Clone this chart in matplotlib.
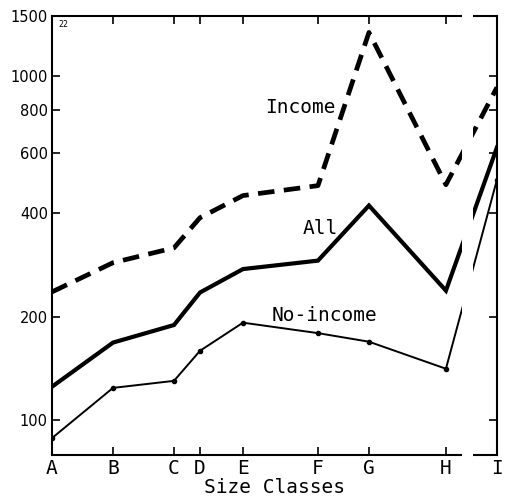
#!/usr/bin/env python3
"""Income / All / No-income by size class, log scale, with a break before class I."""

import matplotlib
matplotlib.use("Agg")
import matplotlib.pyplot as plt
from matplotlib.patches import Rectangle
from matplotlib.ticker import FixedLocator, NullLocator

classes = ["A", "B", "C", "D", "E", "F", "G", "H", "I"]
# relative position of each size class along the axis
class_pos = [0, 61, 122, 148, 191, 266, 317, 394, 445]

income = [236, 287, 317, 388, 450, 481, 1343, 484, 929]
all_units = [125, 168, 189, 235, 275, 291, 421, 238, 621]
no_income = [88.6, 124, 130, 159, 192, 179, 169, 141, 500]

y_ticks = [100, 200, 400, 600, 800, 1000, 1500]

mono = "DejaVu Sans Mono"

fig = plt.figure(figsize=(5.05, 4.98), dpi=100)
ax = fig.add_axes([0.103, 0.086, 0.881, 0.882])

ax.plot(class_pos, income, color="black", lw=3.4, ls=(0, (3.5, 2.0)),
        dash_capstyle="butt")
ax.plot(class_pos, all_units, color="black", lw=3.0, solid_joinstyle="miter")
ax.plot(class_pos, no_income, color="black", lw=1.4, marker="o", ms=3)

ax.set_yscale("log")
ax.set_ylim(79, 1500)
ax.set_xlim(class_pos[0], class_pos[-1])
ax.yaxis.set_major_locator(FixedLocator(y_ticks))
ax.yaxis.set_minor_locator(NullLocator())
ax.set_yticklabels([str(v) for v in y_ticks], fontsize=10.5)
ax.set_xticks(class_pos)
ax.set_xticklabels(classes, fontsize=14, family=mono)
ax.tick_params(direction="in", length=6, width=1.2, top=True, right=True,
               labelright=False, labeltop=False, pad=3)
for s in ax.spines.values():
    s.set_linewidth(1.5)

ax.set_xlabel("Size Classes", family=mono, fontsize=14, labelpad=0)

ax.text(213, 810, "Income", family=mono, fontsize=14, ha="left", va="center")
ax.text(251, 362, "All", family=mono, fontsize=14, ha="left", va="center")
ax.text(220, 202, "No-income", family=mono, fontsize=14, ha="left", va="center")
ax.text(6, 1420, "22", family=mono, fontsize=6, ha="left", va="center")

# white band for the axis break between H and I
ax.add_patch(Rectangle((410, -0.02), 11, 1.04, transform=ax.get_xaxis_transform(),
                       facecolor="white", edgecolor="none", zorder=10, clip_on=False))

fig.savefig("out.png", dpi=100)
